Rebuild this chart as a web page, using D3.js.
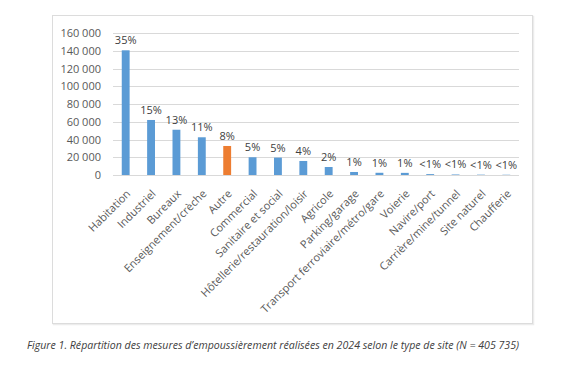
<!DOCTYPE html>
<html><head><meta charset="utf-8">
<script src="https://cdn.jsdelivr.net/npm/d3@7"></script>
<style>
html,body{margin:0;padding:0;background:#fff;}
svg{display:block;}
</style></head>
<body>
<svg id="c" width="588" height="366"></svg>
<script>
const categories = ["Habitation","Industriel","Bureaux","Enseignement/crèche","Autre","Commercial","Sanitaire et social","Hôtellerie/restauration/loisir","Agricole","Parking/garage","Transport ferroviaire/métro/gare","Voierie","Navire/port","Carrière/mine/tunnel","Site naturel","Chaufferie"];
const values = [140500, 62000, 51000, 42500, 32700, 20000, 19600, 15800, 9000, 3400, 2500, 2400, 1000, 600, 400, 300];
const percentLabels = ["35%","15%","13%","11%","8%","5%","5%","4%","2%","1%","1%","1%","<1%","<1%","<1%","<1%"];
const highlight = ["Autre"];
const yTicks = [0,20000,40000,60000,80000,100000,120000,140000,160000];
const caption = "Figure 1. Répartition des mesures d’empoussièrement réalisées en 2024 selon le type de site (N = 405 735)";

const svg = d3.select("#c");
const font = "'Open Sans', sans-serif";

// frame
svg.append("rect").attr("x",53.5).attr("y",16.5).attr("width",480).attr("height",308)
  .attr("fill","none").attr("stroke","#ececec").attr("stroke-width",1.5);
svg.append("rect").attr("x",52.5).attr("y",15.5).attr("width",480).attr("height",308)
  .attr("fill","#fff").attr("stroke","#dcdcdc").attr("stroke-width",1);

const x = d3.scaleBand().domain(categories).range([113,519]).paddingInner(0.69).paddingOuter(0.345);
const y = d3.scaleLinear().domain([0,160000]).range([175,33]);

const fmt = v => d3.format(",")(v).replace(/,/g," ");

// grid
svg.append("g").selectAll("line").data(yTicks).join("line")
  .attr("x1",113).attr("x2",519)
  .attr("y1",d=>Math.round(y(d))+0.5).attr("y2",d=>Math.round(y(d))+0.5)
  .attr("stroke","#d9d9d9").attr("stroke-width",1);

// y axis labels
const ya = svg.append("g").attr("transform","translate(101,0)")
  .call(d3.axisLeft(y).tickValues(yTicks).tickSize(0).tickPadding(0).tickFormat(fmt));
ya.select(".domain").remove();
ya.selectAll("text").attr("font-family",font).attr("font-size",11).attr("fill","#595959");

// bars
svg.append("g").selectAll("rect").data(categories).join("rect")
  .attr("x",d=>x(d)).attr("width",x.bandwidth())
  .attr("y",(d,i)=>y(values[i])).attr("height",(d,i)=>y(0)-y(values[i]))
  .attr("fill",d=>highlight.includes(d)?"#ed7d31":"#5b9bd5");

// value labels
svg.append("g").selectAll("text").data(categories).join("text")
  .attr("x",d=>x(d)+x.bandwidth()/2)
  .attr("y",(d,i)=>y(values[i])-6)
  .attr("text-anchor","middle")
  .attr("font-family",font).attr("font-size",11).attr("fill","#404040")
  .text((d,i)=>percentLabels[i]);

// x labels
const xa = svg.append("g").attr("transform","translate(0,175)")
  .call(d3.axisBottom(x).tickSize(0).tickPadding(0));
xa.select(".domain").remove();
xa.selectAll("text")
  .attr("font-family",font).attr("font-size",11).attr("fill","#595959")
  .attr("text-anchor","end")
  .attr("transform","translate(0,14) rotate(-45)")
  .attr("dy","0.7em").attr("y",0).attr("x",0);

// caption
svg.append("text").attr("x",27).attr("y",349)
  .attr("font-family",font).attr("font-style","italic").attr("font-size",10.6).attr("fill","#404040")
  .text(caption);
</script>
</body></html>
